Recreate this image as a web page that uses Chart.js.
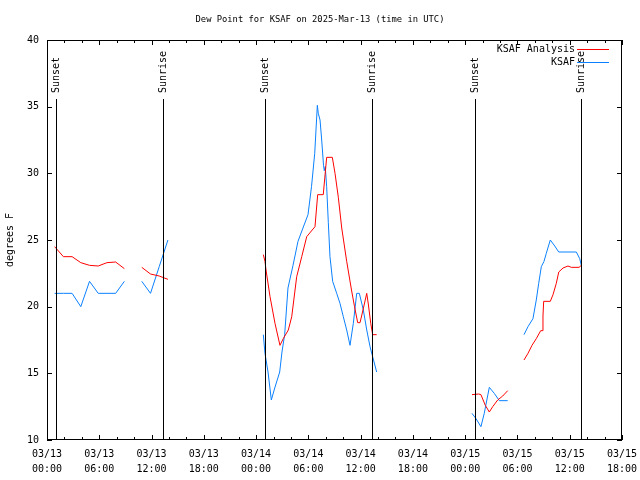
<!DOCTYPE html>
<html>
<head>
<meta charset="utf-8">
<script src="https://cdn.jsdelivr.net/npm/chart.js@4.4.1/dist/chart.umd.min.js"></script>
<style>
html, body { margin: 0; padding: 0; background: #fff; }
#wrap { width: 640px; height: 480px; }
</style>
</head>
<body>
<div id="wrap"><canvas id="dewChart"></canvas></div>
<script>
// === X軸ラベル (03/13 00:00 UTC からの時間) ===
const xTickDates = ['03/13', '03/13', '03/13', '03/13', '03/14', '03/14', '03/14', '03/14', '03/15', '03/15', '03/15', '03/15'];
const xTickTimes = ['00:00', '06:00', '12:00', '18:00', '00:00', '06:00', '12:00', '18:00', '00:00', '06:00', '12:00', '18:00'];

// === 日の出・日の入り ===
const sunLabels = ['Sunset', 'Sunrise', 'Sunset', 'Sunrise', 'Sunset', 'Sunrise'];
const sunHours = [1.05, 13.33, 25.05, 37.33, 49.13, 61.3];

// === KSAF Analysis (null = 欠測) ===
const analysisHours = [
    0.88, 1.88, 2.88, 3.88, 4.88, 5.88, 6.88, 7.88, 8.88,
    9.9,
    10.88, 11.88, 12.88, 13.88,
    19.0,
    24.83, 25.02, 25.14, 25.60, 26.17, 26.74, 27.12, 27.70, 28.09, 28.66, 29.24, 29.81, 30.76,
    31.07, 31.71, 32.10, 32.75, 33.06, 33.44, 33.83, 34.40, 34.95, 35.30, 35.66, 35.93, 36.27,
    36.70, 36.88, 37.16, 37.38, 37.84,
    43.0,
    48.78, 49.55, 49.81, 50.31, 50.77, 51.16, 51.73, 52.31, 52.88,
    53.8,
    54.75, 55.21, 55.67, 56.16, 56.67, 56.82, 56.93, 57.01, 57.77, 58.08, 58.46, 58.74, 59.23,
    59.80, 60.18, 61.07, 61.33
];
const analysisDewpt = [
    24.5, 23.75, 23.75, 23.3, 23.1, 23.05, 23.3, 23.35, 22.85,
    null,
    22.95, 22.45, 22.3, 22.05,
    null,
    23.9, 23.4, 22.75, 20.75, 18.75, 17.1, 17.6, 18.25, 19.25, 22.25, 23.75, 25.25, 26.0,
    28.4, 28.4, 31.2, 31.2, 30.0, 28.2, 25.9, 23.4, 21.25, 20.0, 18.8, 18.8, 19.75,
    21.0, 20.2, 18.75, 17.9, 17.9,
    null,
    13.4, 13.45, 13.4, 12.6, 12.1, 12.5, 13.0, 13.3, 13.7,
    null,
    16.0, 16.5, 17.1, 17.6, 18.2, 18.2, 19.3, 20.4, 20.4, 20.9, 21.75, 22.6, 22.9,
    23.05, 22.95, 22.95, 23.1
];

// === KSAF 観測値 (null = 欠測) ===
const ksafHours = [
    0.88, 1.88, 2.88, 3.88, 4.88, 5.88, 6.88, 7.88, 8.88,
    9.9,
    10.88, 11.88, 12.88, 13.88,
    19.0,
    24.83, 25.02, 25.37, 25.75, 26.14, 26.71, 26.97, 27.28, 27.66, 28.24, 28.81, 29.38, 29.96,
    30.36, 30.73, 31.03, 31.14, 31.34, 31.53, 31.74, 31.83, 31.94, 32.10, 32.29, 32.48, 32.79,
    33.25, 33.63, 34.01, 34.40, 34.78, 35.16, 35.55, 35.85, 36.31, 36.70, 37.08, 37.84,
    43.0,
    48.78, 49.24, 49.81, 50.19, 50.77, 51.34, 51.92, 52.88,
    53.8,
    54.75, 55.21, 55.78, 56.16, 56.44, 56.74, 57.05, 57.31, 57.77, 58.28, 58.74, 60.76, 61.15, 61.33
];
const ksafDewpt = [
    21.0, 21.0, 21.0, 20.0, 21.9, 21.0, 21.0, 21.0, 21.9,
    null,
    21.9, 21.0, 23.0, 25.0,
    null,
    17.9, 16.5, 15.1, 13.0, 13.9, 15.1, 16.6, 17.9, 21.4, 23.1, 24.9, 25.9, 26.9,
    29.0, 31.5, 35.1, 34.5, 34.0, 32.5, 30.6, 30.2, 30.5, 29.0, 26.3, 23.75, 21.9,
    21.0, 20.25, 19.25, 18.25, 17.1, 18.75, 21.0, 21.0, 19.75, 18.25, 17.0, 15.1,
    null,
    12.0, 11.6, 11.0, 12.0, 13.95, 13.5, 12.95, 12.95,
    null,
    17.9, 18.5, 19.1, 20.5, 21.75, 23.0, 23.4, 24.0, 25.0, 24.55, 24.1, 24.1, 23.6, 23.1
];

const FONT = 'DejaVu Sans Mono';
const RED = '#ff0000';
const BLUE = '#0a80ff';

const toPoints = (hours, values) => hours.map((h, i) => ({ x: h, y: values[i] }));

/**
 * gnuplot風の枠・目盛り・日の出日の入り線・凡例を描く
 */
const gnuplotFrame = {
    id: 'gnuplotFrame',
    afterDatasetsDraw(chart) {
        const { ctx, chartArea: a, scales: { x, y } } = chart;
        ctx.save();
        ctx.strokeStyle = '#000';
        ctx.lineWidth = 1;

        // 枠
        ctx.strokeRect(a.left + 0.5, a.top + 0.5, a.right - a.left - 1, a.bottom - a.top - 1);

        ctx.beginPath();
        // Y目盛り (左右)
        y.ticks.forEach(t => {
            const py = Math.round(y.getPixelForValue(t.value)) + 0.5;
            ctx.moveTo(a.left, py); ctx.lineTo(a.left + 5, py);
            ctx.moveTo(a.right, py); ctx.lineTo(a.right - 5, py);
        });
        // X目盛り (上下, 2時間ごと)
        for (let h = 0; h <= 66; h += 2) {
            const px = Math.round(x.getPixelForValue(h)) + 0.5;
            const len = h % 6 === 0 ? 5 : 3;
            ctx.moveTo(px, a.bottom); ctx.lineTo(px, a.bottom - len);
            ctx.moveTo(px, a.top); ctx.lineTo(px, a.top + len);
        }
        ctx.stroke();

        // 日の出・日の入り
        ctx.font = `10px ${FONT}`;
        ctx.fillStyle = '#000';
        sunHours.forEach((h, i) => {
            const px = Math.round(x.getPixelForValue(h)) + 0.5;
            ctx.beginPath();
            ctx.moveTo(px, a.top + 59);
            ctx.lineTo(px, a.bottom);
            ctx.stroke();
            ctx.save();
            ctx.translate(px, a.top + 53);
            ctx.rotate(-Math.PI / 2);
            ctx.textAlign = 'left';
            ctx.textBaseline = 'middle';
            ctx.fillText(sunLabels[i], 0, 0);
            ctx.restore();
        });

        // 凡例
        ctx.textAlign = 'right';
        ctx.textBaseline = 'middle';
        chart.data.datasets.forEach((ds, i) => {
            const ly = a.top + 9 + i * 13;
            ctx.fillStyle = '#000';
            ctx.fillText(ds.label, a.right - 47, ly);
            ctx.strokeStyle = ds.borderColor;
            ctx.beginPath();
            ctx.moveTo(a.right - 45, Math.round(ly) + 0.5);
            ctx.lineTo(a.right - 13, Math.round(ly) + 0.5);
            ctx.stroke();
        });
        ctx.restore();
    }
};

const ctx = document.getElementById('dewChart').getContext('2d');
const dewChart = new Chart(ctx, {
    type: 'line',
    data: {
        datasets: [{
            label: 'KSAF Analysis',
            data: toPoints(analysisHours, analysisDewpt),
            borderColor: RED,
            borderWidth: 1,
            pointRadius: 0,
            tension: 0,
            spanGaps: false
        }, {
            label: 'KSAF',
            data: toPoints(ksafHours, ksafDewpt),
            borderColor: BLUE,
            borderWidth: 1,
            pointRadius: 0,
            tension: 0,
            spanGaps: false
        }]
    },
    options: {
        responsive: true,
        maintainAspectRatio: false,
        animation: false,
        devicePixelRatio: 1,
        layout: { padding: 0 },
        plugins: {
            legend: { display: false },
            tooltip: { enabled: false },
            title: {
                display: true,
                text: 'Dew Point for KSAF on 2025-Mar-13 (time in UTC)',
                color: '#000',
                font: { family: FONT, size: 8.8, weight: 'normal', lineHeight: '12px' },
                padding: { top: 14, bottom: 14 }
            }
        },
        scales: {
            x: {
                type: 'linear',
                min: 0,
                max: 66,
                grid: { display: false, drawTicks: false },
                border: { display: false },
                afterFit: (scale) => {
                    scale.height = 40;
                    scale.paddingLeft = 0;
                    scale.paddingRight = 18; // 右余白
                },
                ticks: {
                    stepSize: 6,
                    autoSkip: false,
                    maxRotation: 0,
                    padding: 7,
                    color: '#000',
                    font: { family: FONT, size: 10, lineHeight: 1.5 },
                    callback: (value) => {
                        const i = Math.round(value / 6);
                        return [xTickDates[i], xTickTimes[i]];
                    }
                }
            },
            y: {
                min: 10,
                max: 40,
                grid: { display: false, drawTicks: false },
                border: { display: false },
                afterFit: (scale) => { scale.width = 47; },
                ticks: {
                    stepSize: 5,
                    padding: 8,
                    color: '#000',
                    font: { family: FONT, size: 10 }
                },
                title: {
                    display: true,
                    text: 'degrees F',
                    color: '#000',
                    font: { family: FONT, size: 10 },
                    padding: { top: 4, bottom: 0 }
                }
            }
        }
    },
    plugins: [gnuplotFrame]
});
</script>
</body>
</html>
